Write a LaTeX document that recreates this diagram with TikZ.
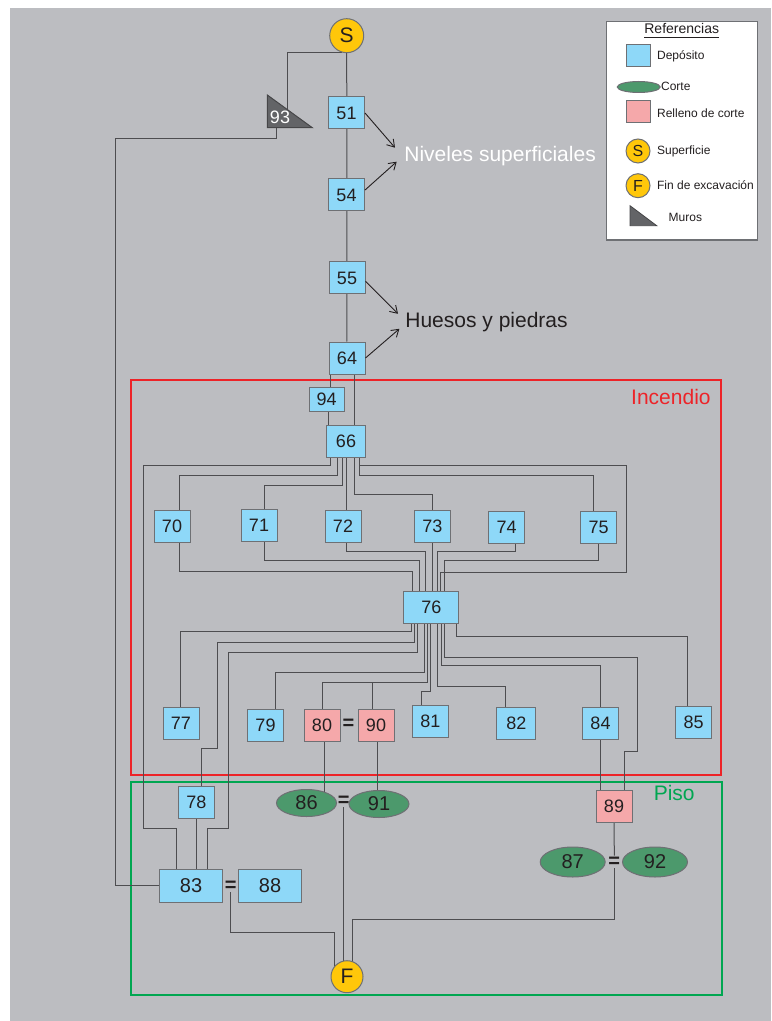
\documentclass[tikz,border=0pt]{standalone}
\usepackage{fontspec}
\setmainfont{Liberation Sans}
\usetikzlibrary{arrows.meta}
\usetikzlibrary{shapes.geometric}

\definecolor{gris}{RGB}{188,189,193}
\definecolor{azul}{RGB}{142,216,248}
\definecolor{rosa}{RGB}{245,168,170}
\definecolor{verde}{RGB}{76,153,108}
\definecolor{amarillo}{RGB}{255,199,10}
\definecolor{borde}{RGB}{110,112,116}
\definecolor{linea}{RGB}{77,77,80}
\definecolor{rojo}{RGB}{237,35,40}
\definecolor{verdeP}{RGB}{0,166,81}
\definecolor{muro}{RGB}{99,100,103}
\definecolor{muroBorde}{RGB}{70,70,72}
\definecolor{texto}{RGB}{35,31,32}

\pgfdeclarelayer{fondo}
\pgfdeclarelayer{lineas}
\pgfsetlayers{fondo,lineas,main}

\begin{document}
\begin{tikzpicture}[x=0.5pt,y=-0.5pt]
  \tikzstyle{dep}=[rectangle, draw=borde, fill=azul, line width=0.5pt, minimum width=18pt, minimum height=16pt, inner sep=0pt, text=texto, font=\fontsize{9}{10}\selectfont]
  \tikzstyle{rel}=[dep, fill=rosa]
  \tikzstyle{cor}=[ellipse, draw=borde, fill=verde, line width=0.5pt, minimum width=30pt, minimum height=13.5pt, inner sep=0pt, text=texto, font=\fontsize{10}{11}\selectfont]
  \tikzstyle{lim}=[circle, draw=borde, fill=amarillo, line width=0.5pt, minimum size=17pt, inner sep=0pt, text=texto, font=\fontsize{10.5}{12}\selectfont]
  \tikzstyle{igual}=[inner sep=0.4pt, text=texto, font=\fontsize{10}{11}\selectfont\bfseries]
  \tikzstyle{link}=[draw=linea, line width=0.5pt]
  \tikzstyle{flecha}=[draw=texto, line width=0.45pt, -{Straight Barb[length=3.5pt,width=4.5pt]}]
  \tikzstyle{ref}=[anchor=west, inner sep=0pt, text=texto, font=\fontsize{6}{7}\selectfont]
  \tikzstyle{rotulo}=[inner sep=0pt, font=\fontsize{10.5}{12}\selectfont]

  \useasboundingbox (0,0) rectangle (771,1021);

  \begin{pgfonlayer}{fondo}
    \fill[white] (0,0) rectangle (771,1021);
    \fill[gris] (10,8) rectangle (771,1021);
    \draw[draw=rojo, line width=1pt] (131,380) rectangle (721,775);
    \draw[draw=verdeP, line width=1pt] (131,782) rectangle (722,995);
  \end{pgfonlayer}

  % zonas
  \node[rotulo, anchor=east, text=rojo] (incendio) at (711,397) {Incendio};
  \node[rotulo, anchor=east, text=verdeP] (piso) at (695,793) {Piso};

  % unidades
  \node[lim] (S) at (346.7,35.7) {S};
  \filldraw[fill=muro, draw=muroBorde, line width=0.5pt] (267.3,95) -- (267.3,127.7) -- (312.3,127.7) -- cycle;
  \node[text=white, font=\fontsize{9}{10}\selectfont] (93) at (280,117.5) {93};
  \coordinate (93a) at (287.3,112);
  \coordinate (93b) at (276.7,122);
  \node[dep] (51) at (346.5,113) {51};
  \node[dep] (54) at (346.5,195) {54};
  \node[dep] (55) at (347,278) {55};
  \node[dep] (64) at (347,358) {64};
  \node[dep, minimum width=17.5pt, minimum height=12pt] (94) at (326.7,399) {94};
  \node[dep, minimum width=19.5pt] (66) at (346,441.5) {66};
  \node[dep] (70) at (172,526) {70};
  \node[dep] (71) at (259,525) {71};
  \node[dep] (72) at (343,526) {72};
  \node[dep] (73) at (432.3,526) {73};
  \node[dep] (74) at (506.6,527) {74};
  \node[dep] (75) at (598.6,527.5) {75};
  \node[dep, minimum width=27.5pt] (76) at (431.4,607) {76};
  \node[dep] (77) at (181,723) {77};
  \node[dep] (79) at (265.5,725) {79};
  \node[rel] (80) at (322,725) {80};
  \node[igual] (e80) at (348.5,724) {=};
  \node[rel] (90) at (376,725) {90};
  \node[dep] (81) at (430.4,721) {81};
  \node[dep, minimum width=19.5pt] (82) at (516.3,723) {82};
  \node[dep] (84) at (600.5,723) {84};
  \node[dep] (85) at (693.7,722) {85};
  \node[dep] (78) at (196.5,802) {78};
  \node[cor] (86) at (306.5,803) {86};
  \node[igual] (e86) at (343.7,801) {=};
  \node[cor] (91) at (379,804) {91};
  \node[rel] (89) at (614,806.5) {89};
  \node[cor, minimum width=32.5pt, minimum height=15pt] (87) at (572.7,862) {87};
  \node[igual] (e87) at (614.3,862) {=};
  \node[cor, minimum width=32.5pt, minimum height=15pt] (92) at (655,862) {92};
  \node[dep, minimum width=31.5pt, minimum height=16.5pt, font=\fontsize{10}{11}\selectfont] (83) at (191,885.7) {83};
  \node[igual] (e83) at (230.6,886) {=};
  \node[dep, minimum width=31.5pt, minimum height=16.5pt, font=\fontsize{10}{11}\selectfont] (88) at (270,885.7) {88};
  \node[lim, minimum size=16pt] (F) at (347,976.7) {F};

  % niveles
  \node[rotulo, anchor=west, text=white] (niveles) at (404,156) {Niveles superficiales};
  \node[rotulo, anchor=west, text=texto] (huesos) at (405,322) {Huesos y piedras};
  \coordinate (nivA) at (395,147.7);
  \coordinate (nivB) at (396.7,161.7);
  \coordinate (hueA) at (398,313.8);
  \coordinate (hueB) at (399.4,328.8);
  \draw[flecha] (51.east) -- (nivA);
  \draw[flecha] (54.15) -- (nivB);
  \draw[flecha] (55.350) -- (hueA);
  \draw[flecha] (64.east) -- (hueB);

  \begin{pgfonlayer}{lineas}
    % tronco
    \draw[link] (S) -- (64);
    \draw[link] (S.255) -| (93a);
    \draw[link] (93b) |- (115,139) |- (83);
    \draw[link] (330,0 |- 64) -- (330,0 |- 94);
    \draw[link] (354.6,0 |- 64) -- (354.6,0 |- 66);
    \draw[link] (328.2,0 |- 94) -- (328.2,0 |- 66);
    % desde 66
    \draw[link] (330.7,0 |- 66) |- (143.8,465.7) |- (176.7,828.3) -- (176.7,0 |- 83);
    \draw[link] (337.7,0 |- 66) |- (179.4,475.3) -- (179.4,0 |- 70);
    \draw[link] (342.3,0 |- 66) |- (264,485.3) -- (264,0 |- 71);
    \draw[link] (346.7,0 |- 66) -- (346.7,0 |- 72);
    \draw[link] (354.3,0 |- 66) |- (432.3,494) -- (432.3,0 |- 73);
    \draw[link] (359,0 |- 66) |- (593,475.3) -- (593,0 |- 75);
    \draw[link] (359,0 |- 66) |- (626.4,465.7) |- (440,572.3) -- (440,0 |- 76);
    % hacia 76
    \draw[link] (179.4,0 |- 70) |- (412.3,571) -- (412.3,0 |- 76);
    \draw[link] (264,0 |- 71) |- (419,560) -- (419,0 |- 76);
    \draw[link] (346.7,0 |- 72) |- (425.7,551.7) -- (425.7,0 |- 76);
    \draw[link] (432.3,0 |- 73) -- (432.3,0 |- 76);
    \draw[link] (515,0 |- 74) |- (437.5,551) -- (437.5,0 |- 76);
    \draw[link] (598.8,0 |- 75) |- (444.3,560.7) -- (444.3,0 |- 76);
    % desde 76
    \draw[link] (411.7,0 |- 76) |- (180,631.3) -- (180,0 |- 77);
    \draw[link] (414.3,0 |- 76) |- (217.3,642.7) |- (201,748.7) -- (201,0 |- 78);
    \draw[link] (417.7,0 |- 76) |- (228.4,652.7) |- (207,828.3) -- (207,0 |- 83);
    \draw[link] (196.7,0 |- 78) -- (196.7,0 |- 83);
    \draw[link] (424.3,0 |- 76) |- (275.8,672) -- (275.8,0 |- 79);
    \draw[link] (427,0 |- 76) |- (322.5,682) -- (322.5,0 |- 80);
    \coordinate (r90) at (372.6,682);
    \draw[link] (r90) -- (372.6,0 |- 90);
    \draw[link] (430.3,0 |- 76) |- (421.2,691.7) -- (421.2,0 |- 81);
    \draw[link] (437.5,0 |- 76) |- (505,686) -- (505,0 |- 82);
    \draw[link] (441.7,0 |- 76) |- (600.7,665.7) -- (600.7,0 |- 84);
    \draw[link] (444.3,0 |- 76) |- (637,657.7) |- (624.8,751) -- (624.8,0 |- 89);
    \draw[link] (456,0 |- 76) |- (687.6,636.7) -- (687.6,0 |- 85);
    % piso
    \draw[link] (600.7,0 |- 84) -- (600.7,0 |- 89);
    \draw[link] (324,0 |- 80) -- (324,0 |- 86);
    \draw[link] (377,0 |- 90) -- (377,0 |- 91);
    \draw[link] (89) -- (e87.north);
    \draw[link] (e86.south) -- (e86.south |- F);
    \draw[link] (e83.south) |- (334,932.3) -- (334,0 |- F);
    \draw[link] (e87.south) |- (352.3,919.3) -- (352.3,0 |- F);
  \end{pgfonlayer}

  % referencias
  \draw[draw=borde, fill=white, line width=0.6pt] (606.7,21.7) rectangle (757.7,240);
  \node[text=texto, font=\fontsize{7}{8}\selectfont] (refTit) at (681.7,31) {\underline{Referencias}};
  \node[dep, minimum width=12pt, minimum height=11pt] (refDep) at (638.5,55.5) {};
  \node[ref] (refDepT) at (656.7,56.7) {Depósito};
  \node[cor, minimum width=21.5pt, minimum height=5.5pt] (refCor) at (638.7,87) {};
  \node[ref] (refCorT) at (660.7,86.7) {Corte};
  \node[rel, minimum width=12pt, minimum height=11pt] (refRel) at (638.5,112) {};
  \node[ref] (refRelT) at (656.7,113.3) {Relleno de corte};
  \node[lim, minimum size=12pt, font=\fontsize{8}{9}\selectfont] (refS) at (638,151) {S};
  \node[ref] (refST) at (656.7,151) {Superficie};
  \node[lim, minimum size=12pt, font=\fontsize{8}{9}\selectfont] (refF) at (638,185.7) {F};
  \node[ref] (refFT) at (656.7,185) {Fin de excavación};
  \filldraw[fill=muro, draw=muroBorde, line width=0.4pt] (630,205.7) -- (630,225.7) -- (656.7,225.7) -- cycle;
  \node[ref] (refMT) at (668.3,217.3) {Muros};
\end{tikzpicture}
\end{document}
